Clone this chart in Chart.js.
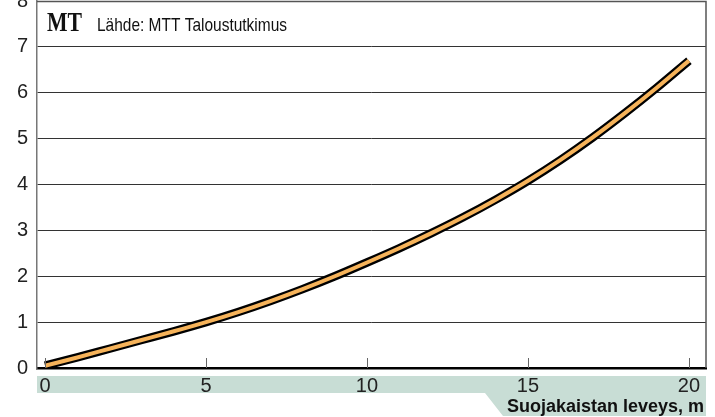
<!DOCTYPE html>
<html>
<head>
<meta charset="utf-8">
<script src="https://cdn.jsdelivr.net/npm/chart.js@4.4.1/dist/chart.umd.min.js"></script>
<style>
  html, body { margin: 0; padding: 0; background: #fff; }
  #wrap { position: relative; width: 715px; height: 417px; }
</style>
</head>
<body>
<div id="wrap"><canvas id="myChart" width="715" height="417"></canvas></div>
<script>
// suojakaistan leveys (m) and the value
const widths = [0, 1, 2, 3, 4, 5, 6, 7, 8, 9, 10, 11, 12, 13, 14, 15, 16, 17, 18, 19, 20];
const values = [0.05, 0.23, 0.42, 0.61, 0.8, 1.0, 1.22, 1.46, 1.72, 2.0, 2.3, 2.61, 2.94, 3.29, 3.67, 4.08, 4.53, 5.02, 5.55, 6.11, 6.7];
const xTicks = [0, 5, 10, 15, 20];
const yTicks = [0, 1, 2, 3, 4, 5, 6, 7, 8];

const sourceText = 'Lähde: MTT Taloustutkimus';
const axisTitle = 'Suojakaistan leveys, m';

const points = widths.map((w, i) => ({x: w, y: values[i]}));

// draws band under x labels, frame, inner ticks and the texts
const decor = {
  id: 'decor',
  beforeDraw(chart) {
    const ctx = chart.ctx;
    const a = chart.chartArea;
    ctx.save();
    ctx.fillStyle = '#c8ddd5';
    ctx.beginPath();
    ctx.moveTo(a.left, 376);
    ctx.lineTo(a.right, 376);
    ctx.lineTo(a.right, 416);
    ctx.lineTo(503, 416);
    ctx.lineTo(485, 393);
    ctx.lineTo(a.left, 393);
    ctx.closePath();
    ctx.fill();
    ctx.restore();
  },
  afterDatasetsDraw(chart) {
    const ctx = chart.ctx;
    const a = chart.chartArea;
    const xs = chart.scales.x;
    ctx.save();
    // top and right frame
    ctx.strokeStyle = '#555';
    ctx.lineWidth = 1.5;
    ctx.beginPath();
    ctx.moveTo(a.left, a.top + 0.5);
    ctx.lineTo(a.right, a.top + 0.5);
    ctx.lineTo(a.right, a.bottom);
    ctx.stroke();
    // ticks pointing up into the plot
    ctx.strokeStyle = '#666';
    ctx.lineWidth = 1;
    xTicks.forEach(t => {
      const px = Math.round(xs.getPixelForValue(t)) + 0.5;
      ctx.beginPath();
      ctx.moveTo(px, a.bottom - 10);
      ctx.lineTo(px, a.bottom);
      ctx.stroke();
    });
    // logo + source
    ctx.fillStyle = '#111';
    ctx.textBaseline = 'alphabetic';
    ctx.textAlign = 'left';
    ctx.font = 'bold 28px "Liberation Serif", serif';
    ctx.fillText('MT', 47, 31, 35);
    ctx.font = '19px "Liberation Sans Narrow", "Liberation Sans", sans-serif';
    ctx.fillText(sourceText, 97, 31, 190);
    // axis title
    ctx.font = 'bold 18px "Liberation Sans Narrow", "Liberation Sans", sans-serif';
    ctx.textAlign = 'right';
    ctx.fillText(axisTitle, 704, 412, 198);
    ctx.restore();
  }
};

const config = {
  type: 'line',
  data: {
    datasets: [
      {
        data: points,
        borderColor: '#f6b35a',
        borderWidth: 4,
        pointRadius: 0,
        cubicInterpolationMode: 'monotone'
      },
      {
        data: points,
        borderColor: '#000',
        borderWidth: 8.5,
        pointRadius: 0,
        cubicInterpolationMode: 'monotone'
      }
    ]
  },
  options: {
    responsive: false,
    animation: false,
    layout: { padding: { top: 1, right: 9, left: 0, bottom: 0 } },
    plugins: { legend: { display: false }, tooltip: { enabled: false } },
    scales: {
      x: {
        type: 'linear',
        min: -0.25,
        max: 20.53,
        afterBuildTicks: s => { s.ticks = xTicks.map(v => ({value: v})); },
        afterFit: s => { s.height = 49; s.paddingLeft = 0; s.paddingRight = 0; },
        grid: { display: false, drawTicks: false },
        border: { color: '#000', width: 2.5 },
        ticks: {
          padding: 6,
          maxRotation: 0,
          color: '#222',
          font: { family: '"Liberation Sans", Arial, sans-serif', size: 20 }
        }
      },
      y: {
        min: 0,
        max: 8,
        afterBuildTicks: s => { s.ticks = yTicks.map(v => ({value: v})); },
        afterFit: s => { s.width = 37; s.paddingTop = 0; s.paddingBottom = 0; },
        grid: { color: '#333', lineWidth: 1, drawTicks: false },
        border: { color: '#777', width: 1.5 },
        ticks: {
          padding: 9,
          color: '#222',
          font: { family: '"Liberation Sans", Arial, sans-serif', size: 20 }
        }
      }
    }
  },
  plugins: [decor]
};

var myChart = new Chart(document.getElementById('myChart'), config);
</script>
</body>
</html>
